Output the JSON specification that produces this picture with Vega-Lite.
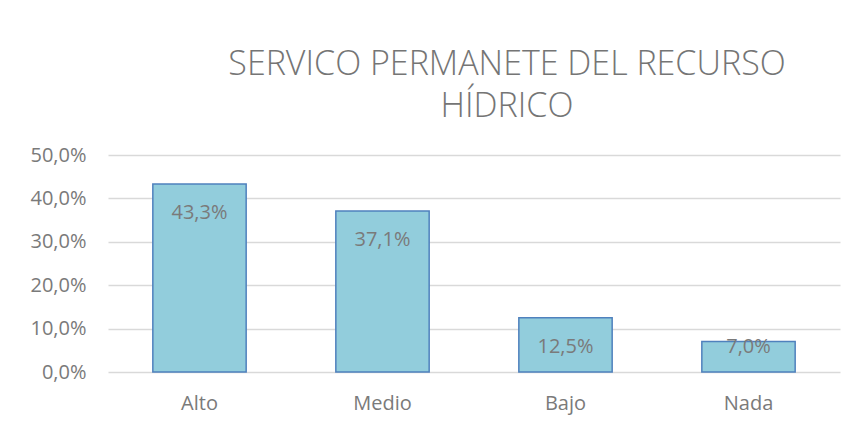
{
  "$schema": "https://vega.github.io/schema/vega-lite/v6.json",
  "autosize": "none",
  "width": 732,
  "height": 217,
  "padding": {"left": 108, "top": 155, "right": 17, "bottom": 58},
  "background": "white",
  "config": {
    "locale": {"number": {"decimal": ",", "thousands": ".", "grouping": [3], "currency": ["", " €"]}},
    "view": {"stroke": null},
    "font": "Open Sans"
  },
  "title": {
    "text": ["SERVICO PERMANETE DEL RECURSO", "HÍDRICO"],
    "anchor": "middle",
    "dx": 33,
    "offset": 21,
    "fontSize": 34,
    "fontWeight": 300,
    "lineHeight": 42,
    "color": "#757575",
    "font": "Open Sans"
  },
  "data": {
    "values": [
      {"categoria": "Alto", "valor": 0.433},
      {"categoria": "Medio", "valor": 0.371},
      {"categoria": "Bajo", "valor": 0.125},
      {"categoria": "Nada", "valor": 0.070}
    ]
  },
  "encoding": {
    "x": {
      "field": "categoria",
      "type": "nominal",
      "sort": null,
      "scale": {"paddingInner": 0.49, "paddingOuter": 0.245},
      "axis": {
        "title": null,
        "labelAngle": 0,
        "domain": false,
        "ticks": false,
        "labelPadding": 21,
        "labelFontSize": 20,
        "labelColor": "#7a7a7a",
        "labelFont": "Open Sans"
      }
    }
  },
  "layer": [
    {
      "mark": {"type": "bar", "fill": "#92CDDC", "stroke": "#4F81BD", "strokeWidth": 1.5},
      "encoding": {
        "y": {
          "field": "valor",
          "type": "quantitative",
          "scale": {"domain": [0, 0.5]},
          "axis": {
            "title": null,
            "format": ".1%",
            "values": [0, 0.1, 0.2, 0.3, 0.4, 0.5],
            "domain": false,
            "ticks": false,
            "labelPadding": 22,
            "labelFontSize": 20,
            "labelColor": "#7a7a7a",
            "labelFont": "Open Sans",
            "gridColor": "#d9d9d9",
            "gridWidth": 1.3
          }
        }
      }
    },
    {
      "mark": {"type": "text", "baseline": "middle", "dy": 29, "fontSize": 20, "color": "#7a7a7a", "font": "Open Sans"},
      "encoding": {
        "y": {
          "field": "valor",
          "type": "quantitative",
          "scale": {"domain": [0.125, 0.5], "range": [162.75, 0], "clamp": true},
          "axis": null
        },
        "text": {"field": "valor", "type": "quantitative", "format": ".1%"}
      }
    }
  ],
  "resolve": {"scale": {"y": "independent"}}
}
